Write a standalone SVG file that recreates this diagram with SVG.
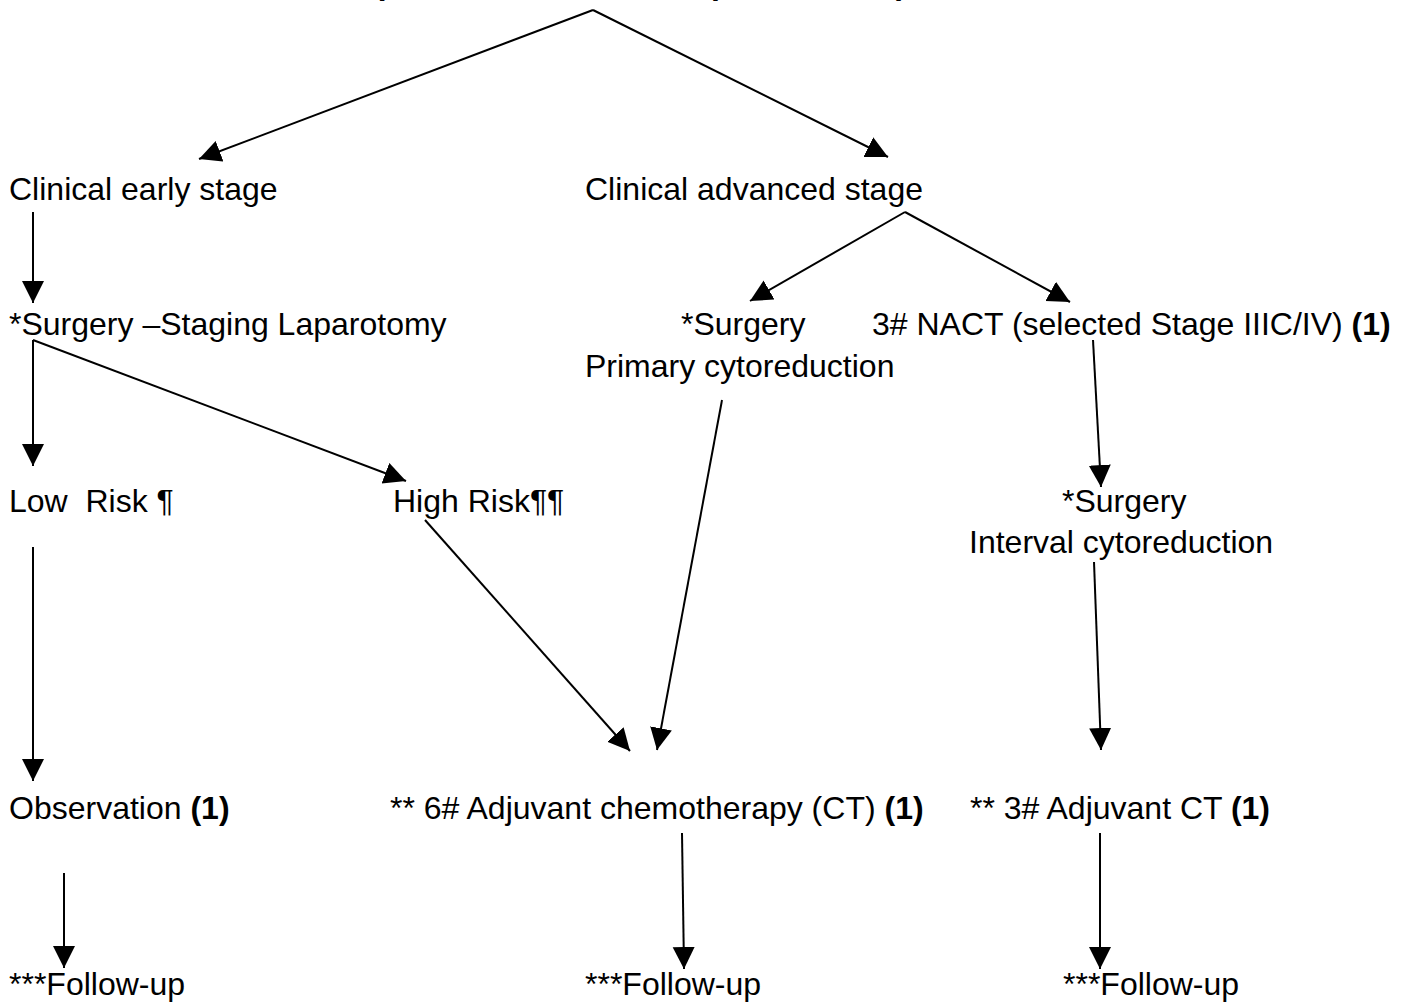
<svg xmlns="http://www.w3.org/2000/svg" width="1411" height="1003" viewBox="0 0 1411 1003">
<style>
text{font-family:"Liberation Sans",Arial,sans-serif;font-size:32px;fill:#000}
.b{font-weight:bold}
.c line{stroke:#000;stroke-width:2;marker-end:url(#ah)}
</style>
<defs>
<marker id="ah" markerUnits="userSpaceOnUse" markerWidth="24" markerHeight="24" refX="22" refY="11" orient="auto">
<path d="M0,0 L22,11 L0,22 z" fill="#000"/>
</marker>
</defs>
<rect width="1411" height="1003" fill="#fff"/>
<g id="title"><text class="b" y="-6"><tspan x="374">(</tspan><tspan x="711">p</tspan><tspan x="896">)</tspan></text></g>
<g id="early"><text x="9" y="200">Clinical early stage</text></g>
<g id="advanced"><text x="585" y="200">Clinical advanced stage</text></g>
<g id="staging"><text x="9" y="335">*Surgery –Staging Laparotomy</text></g>
<g id="primary"><text x="681" y="335">*Surgery</text><text x="585" y="377">Primary cytoreduction</text></g>
<g id="nact"><text x="872" y="335">3# NACT (selected Stage IIIC/IV) <tspan class="b">(1)</tspan></text></g>
<g id="low"><text x="9" y="512" xml:space="preserve">Low  Risk ¶</text></g>
<g id="high"><text x="393" y="512">High Risk¶¶</text></g>
<g id="interval"><text x="1062" y="512">*Surgery</text><text x="969" y="553">Interval cytoreduction</text></g>
<g id="observation"><text x="9" y="819">Observation <tspan class="b">(1)</tspan></text></g>
<g id="adj6"><text x="390" y="819">** 6# Adjuvant chemotherapy (CT) <tspan class="b">(1)</tspan></text></g>
<g id="adj3"><text x="970" y="819">** 3# Adjuvant CT <tspan class="b">(1)</tspan></text></g>
<g id="fu1"><text x="9" y="995">***Follow-up</text></g>
<g id="fu2"><text x="585" y="995">***Follow-up</text></g>
<g id="fu3"><text x="1063" y="995">***Follow-up</text></g>
<g id="connectors" class="c">
<line x1="593" y1="10" x2="199" y2="159"/>
<line x1="593" y1="10" x2="888" y2="157"/>
<line x1="33" y1="212" x2="33" y2="303"/>
<line x1="33" y1="340" x2="33" y2="466"/>
<line x1="33" y1="340" x2="406" y2="481"/>
<line x1="905" y1="212" x2="750" y2="301"/>
<line x1="905" y1="212" x2="1070" y2="302"/>
<line x1="722" y1="400" x2="657" y2="750"/>
<line x1="425" y1="520" x2="630" y2="751"/>
<line x1="1093" y1="340" x2="1101" y2="487"/>
<line x1="1094" y1="562" x2="1101" y2="750"/>
<line x1="33" y1="547" x2="33" y2="781"/>
<line x1="64" y1="873" x2="64" y2="968"/>
<line x1="682" y1="833" x2="684" y2="969"/>
<line x1="1100" y1="833" x2="1100" y2="969"/>
</g>
</svg>
